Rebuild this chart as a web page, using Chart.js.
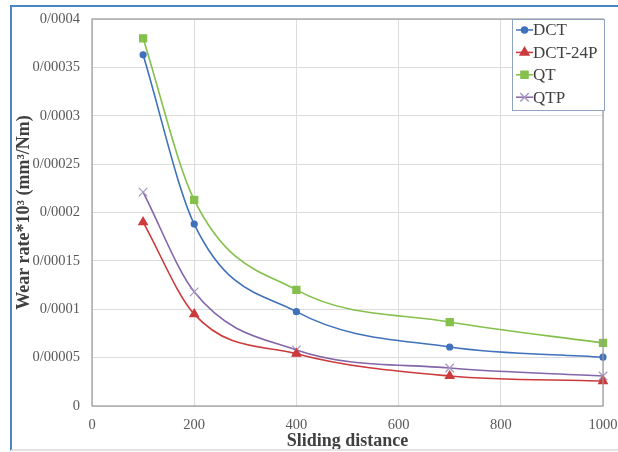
<!DOCTYPE html>
<html>
<head>
<meta charset="utf-8">
<script src="https://cdn.jsdelivr.net/npm/chart.js@4.4.1/dist/chart.umd.min.js"></script>
<style>
  html, body { margin: 0; padding: 0; background: #fff; }
  #wrap { position: relative; width: 618px; height: 452px; overflow: hidden; }
  #frame {
    position: absolute; left: 10px; top: 5px; width: 620px; height: 442px;
    border-left: 2px solid #4a86c5; border-top: 2px solid #4a86c5;
    border-bottom: 2px solid #e4e4e4; pointer-events: none;
  }
  canvas { position: absolute; left: 0; top: 0; }
</style>
</head>
<body>
<div id="wrap">
  <canvas id="myChart" width="618" height="452"></canvas>
  <div id="frame"></div>
</div>
<script>
// sliding distance (x) and wear rate per material
const distances = [100, 200, 400, 700, 1000];
const dct    = [0.000363, 0.000188, 0.0000975, 0.000061, 0.0000505];
const dct24p = [0.000190, 0.000095, 0.000054, 0.000031, 0.0000258];
const qt     = [0.000380, 0.000213, 0.000120, 0.0000868, 0.0000652];
const qtp    = [0.000221, 0.000118, 0.000058, 0.0000393, 0.000031];

const xTicks = [0, 200, 400, 600, 800, 1000];
const seriesNames = ['DCT', 'DCT-24P', 'QT', 'QTP'];

const serif = "'Liberation Serif', 'Times New Roman', serif";

function pts(arr) {
  return distances.map((d, i) => ({x: d, y: arr[i]}));
}

function fmt(v) {
  if (v === 0) return '0';
  return String(Number(v.toFixed(6))).replace('.', '/');
}

const styles = [
  {color: '#3f72bb', pointStyle: 'circle',   radius: 3, fill: '#3f72bb'},
  {color: '#cc3a3c', pointStyle: 'triangle', radius: 5, fill: '#cc3a3c'},
  {color: '#84c04b', pointStyle: 'rect',     radius: 5, fill: '#84c04b'},
  {color: '#8466a8', pointStyle: 'crossRot', radius: 6, fill: '#8466a8', pointColor: '#a796c4'}
];

const seriesData = [dct, dct24p, qt, qtp];

// plot frame
const plotFrame = {
  id: 'plotFrame',
  afterDraw(chart) {
    const {ctx, chartArea: a} = chart;
    ctx.save();
    ctx.strokeStyle = '#9a9a9a';
    ctx.lineWidth = 1.2;
    ctx.strokeRect(a.left, a.top, a.right - a.left, a.bottom - a.top);
    ctx.restore();
  }
};

// legend box in the top right corner of the plot
const legendBox = {
  id: 'legendBox',
  afterDraw(chart) {
    const {ctx, chartArea: a} = chart;
    const w = 92, h = 91;
    const x0 = a.right + 1 - w, y0 = a.top;
    ctx.save();
    ctx.fillStyle = '#fff';
    ctx.fillRect(x0, y0, w, h);
    ctx.strokeStyle = '#8fa3c0';
    ctx.lineWidth = 1;
    ctx.strokeRect(x0 + 0.5, y0 + 0.5, w, h);
    chart.data.datasets.forEach((ds, i) => {
      const y = y0 + 11 + i * 22.4;
      ctx.strokeStyle = ds.borderColor;
      ctx.lineWidth = 1.5;
      ctx.beginPath();
      ctx.moveTo(x0 + 4, y);
      ctx.lineTo(x0 + 21, y);
      ctx.stroke();
      ctx.fillStyle = ds.pointBackgroundColor;
      ctx.strokeStyle = ds.pointBorderColor;
      Chart.helpers.drawPoint(ctx, {
        pointStyle: ds.pointStyle, radius: ds.pointRadius, borderWidth: 1.2, rotation: 0
      }, x0 + 12.5, y);
      ctx.fillStyle = '#404040';
      ctx.font = "17px " + serif;
      ctx.textBaseline = 'middle';
      ctx.textAlign = 'left';
      ctx.fillText(ds.label, x0 + 21, y + 1);
    });
    ctx.restore();
  }
};

const ctx = document.getElementById('myChart').getContext('2d');

new Chart(ctx, {
  type: 'line',
  data: {
    datasets: seriesNames.map((name, i) => ({
      label: name,
      data: pts(seriesData[i]),
      borderColor: styles[i].color,
      borderWidth: 1.6,
      cubicInterpolationMode: 'monotone',
      pointStyle: styles[i].pointStyle,
      pointRadius: styles[i].radius,
      pointBackgroundColor: styles[i].fill,
      pointBorderColor: styles[i].pointColor || styles[i].color,
      pointBorderWidth: 1.2,
      clip: 10,
      fill: false
    }))
  },
  plugins: [plotFrame, legendBox],
  options: {
    responsive: false,
    animation: false,
    events: [],
    layout: {
      padding: {top: 19, right: 15, left: 0, bottom: 0}
    },
    plugins: {
      legend: {display: false},
      tooltip: {enabled: false}
    },
    scales: {
      x: {
        type: 'linear',
        min: 0,
        max: 1000,
        afterFit(scale) {
          scale.height = 46;
          scale.paddingLeft = 0;
          scale.paddingRight = 0;
        },
        afterBuildTicks(scale) { scale.ticks = xTicks.map(v => ({value: v})); },
        grid: {color: '#dcdcdc', drawTicks: false},
        border: {display: false},
        ticks: {
          padding: 10,
          color: '#595959',
          font: {family: serif, size: 14.5},
          callback: (v) => String(v)
        },
        title: {
          display: true,
          text: 'Sliding distance',
          color: '#404040',
          font: {family: serif, size: 18, weight: 'bold'},
          padding: {top: 0, bottom: 0}
        }
      },
      y: {
        min: 0,
        max: 0.0004,
        afterFit(scale) {
          scale.width = 92;
          scale.paddingTop = 0;
          scale.paddingBottom = 0;
        },
        ticks: {
          stepSize: 0.00005,
          padding: 12,
          color: '#595959',
          font: {family: serif, size: 14.5},
          callback: (v) => fmt(v)
        },
        grid: {color: '#dcdcdc', drawTicks: false},
        border: {display: false},
        title: {
          display: true,
          text: 'Wear rate*10³ (mm³/Nm)',
          color: '#404040',
          font: {family: serif, size: 18, weight: 'bold'},
          padding: {top: 14, bottom: 0}
        }
      }
    }
  }
});
</script>
</body>
</html>
